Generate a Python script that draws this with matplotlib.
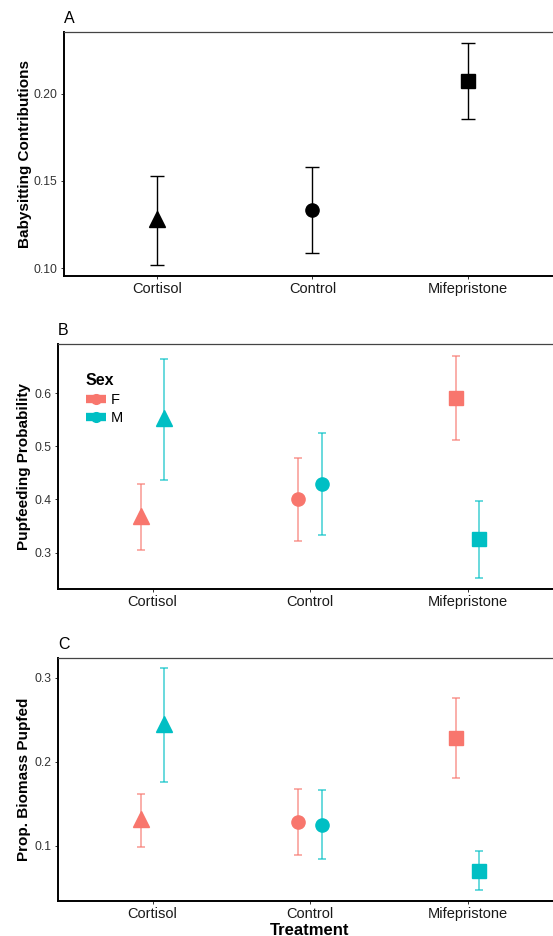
import numpy as np
import matplotlib
matplotlib.use("Agg")
import matplotlib.pyplot as plt
from matplotlib.lines import Line2D

plt.rcParams["font.family"] = ["Liberation Sans", "DejaVu Sans"]

# ── data ─────────────────────────────────────────────────────────────────────
treatments = ["Cortisol", "Control", "Mifepristone"]
markers    = ["^", "o", "s"]
msizes     = [12, 9.5, 10]

# Panel A: babysitting contributions
baby_mean  = [0.128, 0.1333, 0.2075]
baby_lo    = [0.1017, 0.1085, 0.1856]
baby_hi    = [0.1529, 0.1582, 0.2293]

# Panel B: pupfeeding probability, by sex
feed_F_mean = [0.369, 0.400, 0.591]
feed_F_lo   = [0.3045, 0.322, 0.511]
feed_F_hi   = [0.430, 0.478, 0.670]
feed_M_mean = [0.553, 0.429, 0.326]
feed_M_lo   = [0.436, 0.333, 0.2525]
feed_M_hi   = [0.6646, 0.525, 0.398]

# Panel C: proportion of biomass pupfed, by sex
bio_F_mean = [0.1318, 0.128, 0.2286]
bio_F_lo   = [0.0985, 0.089, 0.181]
bio_F_hi   = [0.162, 0.167, 0.276]
bio_M_mean = [0.245, 0.125, 0.070]
bio_M_lo   = [0.176, 0.084, 0.0473]
bio_M_hi   = [0.311, 0.166, 0.0937]

COL_F = "#F8766D"
COL_M = "#00BFC4"
DODGE = 0.074

x = np.arange(1, len(treatments) + 1)


def style_axes(ax, label, ylabel, ylim, yticks, yfmt):
    ax.set_xlim(0.4, 3.6)
    ax.set_ylim(*ylim)
    ax.set_xticks(x)
    ax.set_xticklabels(treatments, fontsize=10.5, color="#1a1a1a")
    ax.set_yticks(yticks)
    ax.set_yticklabels([yfmt.format(v) for v in yticks], fontsize=8.7, color="#333333")
    ax.tick_params(axis="both", length=2.5, width=0.7, color="#333333", pad=2)
    for side in ["left", "bottom"]:
        ax.spines[side].set_linewidth(1.4)
        ax.spines[side].set_color("black")
    for side in ["top", "right"]:
        ax.spines[side].set_linewidth(0.9)
        ax.spines[side].set_color("#444444")
    ax.set_ylabel(ylabel, fontsize=11, fontweight="bold", labelpad=3)
    ax.text(0.0, 1.025, label, transform=ax.transAxes, fontsize=11.5,
            ha="left", va="bottom")


fig = plt.figure(figsize=(5.53, 9.36), dpi=100)

# ── A ────────────────────────────────────────────────────────────────────────
axA = fig.add_axes([0.1157, 0.7051, 0.8987, 0.2607])
for i in range(len(treatments)):
    axA.errorbar(x[i], baby_mean[i],
                 yerr=[[baby_mean[i] - baby_lo[i]], [baby_hi[i] - baby_mean[i]]],
                 fmt=markers[i], color="black", ms=msizes[i], elinewidth=1.0,
                 capsize=4.7, capthick=1.0, zorder=3)
style_axes(axA, "A", "Babysitting Contributions", (0.0954, 0.2356),
           [0.10, 0.15, 0.20], "{:.2f}")
axA.yaxis.labelpad = 1


def sex_panel(ax, fm, flo, fhi, mm, mlo, mhi):
    for i in range(len(treatments)):
        for mean, lo, hi, col, off in [(fm, flo, fhi, COL_F, -DODGE),
                                       (mm, mlo, mhi, COL_M, DODGE)]:
            ax.errorbar(x[i] + off, mean[i],
                        yerr=[[mean[i] - lo[i]], [hi[i] - mean[i]]],
                        fmt="none", ecolor=col, alpha=0.75, elinewidth=1.1,
                        capsize=2.9, capthick=1.1, zorder=2)
            ax.plot(x[i] + off, mean[i], marker=markers[i], color=col,
                    ms=msizes[i], ls="none", zorder=3)


# ── B ────────────────────────────────────────────────────────────────────────
axB = fig.add_axes([0.1049, 0.3710, 0.9114, 0.2611])
sex_panel(axB, feed_F_mean, feed_F_lo, feed_F_hi, feed_M_mean, feed_M_lo, feed_M_hi)
style_axes(axB, "B", "Pupfeeding Probability", (0.2323, 0.6915),
           [0.3, 0.4, 0.5, 0.6], "{:.1f}")
handles = [Line2D([], [], color=COL_F, lw=6, marker="o", ms=7, solid_capstyle="butt"),
           Line2D([], [], color=COL_M, lw=6, marker="o", ms=7, solid_capstyle="butt")]
leg = axB.legend(handles, ["F", "M"], title="Sex", loc="upper left",
                 bbox_to_anchor=(0.043, 0.905), frameon=False, fontsize=10.5,
                 handlelength=1.4, handletextpad=0.3, labelspacing=0.3,
                 borderaxespad=0)
leg.get_title().set_fontweight("bold")
leg.get_title().set_fontsize(11.5)
leg._legend_box.align = "left"

# ── C ────────────────────────────────────────────────────────────────────────
axC = fig.add_axes([0.1049, 0.0374, 0.9114, 0.2600])
sex_panel(axC, bio_F_mean, bio_F_lo, bio_F_hi, bio_M_mean, bio_M_lo, bio_M_hi)
style_axes(axC, "C", "Prop. Biomass Pupfed", (0.0342, 0.3238),
           [0.1, 0.2, 0.3], "{:.1f}")
axC.set_xlabel("Treatment", fontsize=12, fontweight="bold", labelpad=1)

fig.savefig("out.png", dpi=100)
